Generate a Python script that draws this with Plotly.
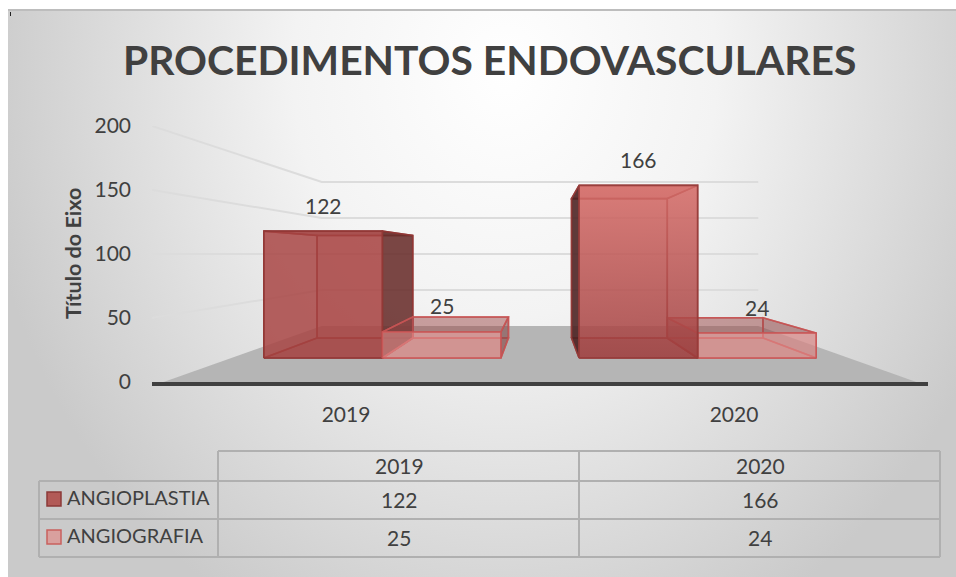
import base64
import plotly.graph_objects as go

# ---------- data ----------
CATEGORIES = ["2019", "2020"]
ANGIOPLASTIA = [122, 166]
ANGIOGRAFIA = [25, 24]
SERIES_NAMES = ["ANGIOPLASTIA", "ANGIOGRAFIA"]
Y_TICKS = [0, 50, 100, 150, 200]
TITLE = "PROCEDIMENTOS ENDOVASCULARES"
AXIS_TITLE = "Título do Eixo"

W, H = 956, 577
FONT = "Lato"
TXT = "#404040"
GRID = "#dcdcdc"
TBL = "#b0b0b0"


def px(x):
    return x / W


def py(y):
    return 1 - y / H


# perspective depth of the 3-D scene (1 = front of floor, vanishing at centre / value 100)
S_WALL, S_FRONT, S_BACK = 0.5625, 0.8125, 0.656
BAR_W = 0.376
BAR_OFF = 0.124


def P(x, v, s):
    return 1 + (x - 1) * s, 100 + (v - 100) * s


def poly(pts, fill, line, lw=1.6, grad=None):
    xs = [p[0] for p in pts] + [pts[0][0]]
    ys = [p[1] for p in pts] + [pts[0][1]]
    kw = dict(fillcolor=fill)
    if grad:
        kw = dict(fillgradient=dict(type="vertical", colorscale=[[0, grad[1]], [1, grad[0]]]))
    return go.Scatter(x=xs, y=ys, mode="lines", fill="toself",
                      line=dict(color=line, width=lw), hoverinfo="skip",
                      showlegend=False, **kw)


def box(x0, x1, v, st, outer):
    f = P
    s0, s1 = S_FRONT, S_BACK
    faces = []
    faces.append(poly([f(x0, 0, s0), f(x1, 0, s0), f(x1, 0, s1), f(x0, 0, s1)], st["bottom"], st["edge"]))
    faces.append(poly([f(x0, 0, s1), f(x1, 0, s1), f(x1, v, s1), f(x0, v, s1)], st["back"], st["edge"]))
    xi, xo = (x0, x1) if outer == "right" else (x1, x0)
    faces.append(poly([f(xi, 0, s0), f(xi, 0, s1), f(xi, v, s1), f(xi, v, s0)], st["inner"], st["edge"]))
    faces.append(poly([f(x0, v, s0), f(x1, v, s0), f(x1, v, s1), f(x0, v, s1)], st["top"], st["edge"]))
    faces.append(poly([f(xo, 0, s0), f(xo, 0, s1), f(xo, v, s1), f(xo, v, s0)], st["outer"], st["edge"]))
    faces.append(poly([f(x0, 0, s0), f(x1, 0, s0), f(x1, v, s0), f(x0, v, s0)], st["front"], st["edge"],
                      grad=st.get("grad")))
    return faces


ST_PL_19 = dict(bottom="rgba(140,55,55,0.35)", back="rgba(175,70,68,0.35)", inner="rgba(175,70,68,0.2)",
                top="rgba(120,50,48,0.55)", outer="rgba(100,45,43,0.82)", front="rgba(168,68,66,0.8)",
                edge="rgba(145,55,53,0.9)")
ST_PL_20 = dict(ST_PL_19, outer="rgba(70,32,32,0.85)", top="rgba(200,100,96,0.5)",
                grad=("rgba(214,110,106,0.85)", "rgba(160,62,62,0.8)"), back="rgba(192,80,77,0.25)",
                edge="rgba(150,60,58,0.9)")
ST_GR = dict(bottom="rgba(192,80,77,0.20)", back="rgba(192,80,77,0.12)", inner="rgba(130,70,70,0.2)",
             top="rgba(150,70,68,0.42)", outer="rgba(120,65,65,0.5)", front="rgba(226,140,138,0.62)",
             edge="rgba(200,85,85,0.85)")

traces = []
# floor
traces.append(poly([P(0.03, 0, 1), P(1.97, 0, 1), P(2, 0, S_WALL), P(0, 0, S_WALL)], "#b5b5b5", "#b5b5b5", 0))
# gridlines on the walls
for t in Y_TICKS[1:]:
    a, b, c = P(0, t, 1), P(0, t, S_WALL), P(2, t, S_WALL)
    traces.append(go.Scatter(x=[a[0], b[0], c[0]], y=[a[1], b[1], c[1]], mode="lines",
                             line=dict(color=GRID, width=2), hoverinfo="skip", showlegend=False))

annotations = []
for i, cat in enumerate(CATEGORIES):
    pl = (i + BAR_OFF, i + BAR_OFF + BAR_W)
    gr = (i + BAR_OFF + BAR_W, i + BAR_OFF + 2 * BAR_W)
    if i == 0:
        traces += box(*pl, ANGIOPLASTIA[i], ST_PL_19, "right")
        traces += box(*gr, ANGIOGRAFIA[i], ST_GR, "right")
    else:
        traces += box(*gr, ANGIOGRAFIA[i], ST_GR, "left")
        traces += box(*pl, ANGIOPLASTIA[i], ST_PL_20, "left")
    for rng, val in ((pl, ANGIOPLASTIA[i]), (gr, ANGIOGRAFIA[i])):
        lx, ly = P((rng[0] + rng[1]) / 2, val, S_FRONT)
        annotations.append(dict(x=lx, y=ly, xref="x", yref="y", text=str(val), showarrow=False,
                                yshift=26, font=dict(family=FONT, size=21, color=TXT)))

# background gradient
svg = f'''<svg xmlns="http://www.w3.org/2000/svg" width="{W}" height="{H}">
<defs><radialGradient id="g" gradientUnits="userSpaceOnUse" cx="0" cy="0" r="1"
 gradientTransform="translate(505 70) scale(530 620)">
<stop offset="0" stop-color="#ffffff"/><stop offset="0.4" stop-color="#f3f3f3"/>
<stop offset="1" stop-color="#cacaca"/></radialGradient></defs>
<rect x="8" y="10" width="948" height="567" fill="url(#g)"/></svg>'''
bg = "data:image/svg+xml;base64," + base64.b64encode(svg.encode()).decode()

shapes = []


def line(x0, y0, x1, y1, color=TBL, w=2):
    shapes.append(dict(type="line", xref="paper", yref="paper", x0=px(x0), y0=py(y0), x1=px(x1), y1=py(y1),
                       line=dict(color=color, width=w)))


line(8, 10, 956, 10, "#bdbdbd", 2)
line(10.5, 12, 10.5, 16, "#222222", 1)
# data table rules
line(218, 451, 940, 451)
line(39, 481, 940, 481)
line(39, 519, 940, 519)
line(39, 557, 940, 557)
line(39, 481, 39, 557)
line(218, 451, 218, 557)
line(579, 451, 579, 557)
line(940, 451, 940, 557)
# legend keys
KEY_STYLE = [("#b25a57", "#8c3a38"), ("#d9a09e", "#c9605e")]
for (fill, edge), top in zip(KEY_STYLE, (492, 530)):
    shapes.append(dict(type="rect", xref="paper", yref="paper", x0=px(47), x1=px(61), y0=py(top), y1=py(top + 14),
                       fillcolor=fill, line=dict(color=edge, width=1.5)))


def note(x, y, text, size=21, anchor="center", **kw):
    annotations.append(dict(x=px(x), y=py(y), xref="paper", yref="paper", text=text, showarrow=False,
                            xanchor=anchor, yanchor="middle",
                            font=dict(family=FONT, size=size, color=TXT), **kw))


note(489, 59, f"<b>{TITLE}</b>", size=40.8)
note(73, 254, f"<b>{AXIS_TITLE}</b>", size=21.5, textangle=-90)
for cx, cat, a, b in zip((399, 760), CATEGORIES, ANGIOPLASTIA, ANGIOGRAFIA):
    note(cx, 465, cat)
    note(cx, 499, str(a))
    note(cx, 537, str(b))
note(65, 497, SERIES_NAMES[0], size=20, anchor="left")
note(65, 535, SERIES_NAMES[1], size=20, anchor="left")

fig = go.Figure(traces)
fig.update_layout(
    template="none",
    width=W, height=H, margin=dict(l=0, r=0, t=0, b=0, pad=0),
    paper_bgcolor="white", plot_bgcolor="rgba(0,0,0,0)", showlegend=False,
    font=dict(family=FONT, color=TXT),
    images=[dict(source=bg, xref="paper", yref="paper", x=0, y=1, sizex=1, sizey=1,
                 sizing="stretch", xanchor="left", yanchor="top", layer="below")],
    shapes=shapes, annotations=annotations,
    xaxis=dict(domain=[px(152), px(928)], range=[0, 2], tickvals=[0.5, 1.5], ticktext=CATEGORIES,
               showgrid=False, zeroline=False, showline=True, linecolor="#404040", linewidth=4,
               automargin=False, ticks="", ticklabelstandoff=11,
               tickfont=dict(family=FONT, size=21, color=TXT), anchor="y"),
    yaxis=dict(domain=[py(382), py(126)], range=[0, 200], tickvals=Y_TICKS,
               showgrid=False, zeroline=False, showline=False, automargin=False,
               ticks="", ticklabelstandoff=20, tickfont=dict(family=FONT, size=21, color=TXT), anchor="x"),
)
fig.write_html("out.html", config={"displayModeBar": False},
               post_script="document.body.style.margin='0';document.body.style.overflow='hidden';")
